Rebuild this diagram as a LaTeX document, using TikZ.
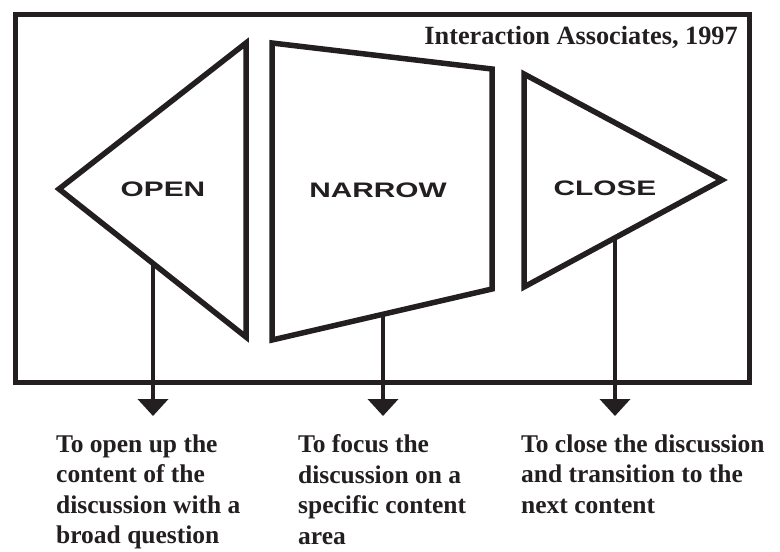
\documentclass[tikz,border=0pt]{standalone}
\usepackage{fontspec}
\setmainfont{Liberation Serif}
\setsansfont{Liberation Sans}
\usetikzlibrary{arrows.meta}
\definecolor{ink}{HTML}{231F20}
% wide bold sans label for each stage
\newcommand{\stagetext}[1]{\scalebox{1.42}[1]{#1}}
\begin{document}
\begin{tikzpicture}[x=1pt,y=-1pt,
  outline/.style={draw=ink,line width=5.5pt,line join=miter},
  frame/.style={draw=ink,line width=5pt},
  stage/.style={font=\sffamily\bfseries\fontsize{21}{24}\selectfont,text=ink},
  note/.style={font=\bfseries\fontsize{25.5}{30.5}\selectfont,text=ink,align=left,anchor=north west,inner sep=0pt},
  lead/.style={draw=ink,line width=4pt,-{Triangle[width=30pt,length=17pt]}}]
  \useasboundingbox (0,0) rectangle (780,552);
  % outer frame
  \draw[frame] (15,14) rectangle (749,382);
  \node[anchor=base east,font=\bfseries\fontsize{26.3}{28}\selectfont,text=ink,inner sep=0pt] (credit) at (738,44) {Interaction Associates, 1997};
  % OPEN: triangle pointing left
  \draw[outline] (246,43) -- (59,189) -- (246,337) -- cycle;
  \node[stage] (open) at (163,189) {\stagetext{OPEN}};
  % NARROW: trapezoid
  \draw[outline] (272,43) -- (492,69) -- (492,289) -- (272,340) -- cycle;
  \node[stage] (narrow) at (378,190) {\stagetext{NARROW}};
  % CLOSE: triangle pointing right
  \draw[outline] (524,74) -- (722,180) -- (524,287) -- cycle;
  \node[stage] (close) at (605,188) {\stagetext{CLOSE}};
  % start points of the leads on the shape edges, and their tips
  \coordinate (openfoot) at (153,263);
  \coordinate (narrowfoot) at (383,313);
  \coordinate (closefoot) at (615,237);
  \coordinate (opentip) at (153,416);
  \coordinate (narrowtip) at (383,416);
  \coordinate (closetip) at (615,416);
  % descriptions
  \node[note] (opennote) at (56,434.5) {To open up the\\content of the\\discussion with a\\broad question};
  \node[note] (narrownote) at (298,434.5) {To focus the\\discussion on a\\specific content\\area};
  \node[note] (closenote) at (521,434.5) {To close the discussion\\and transition to the\\next content};
  % leads
  \draw[lead] (openfoot) -- (opentip);
  \draw[lead] (narrowfoot) -- (narrowtip);
  \draw[lead] (closefoot) -- (closetip);
\end{tikzpicture}
\end{document}
